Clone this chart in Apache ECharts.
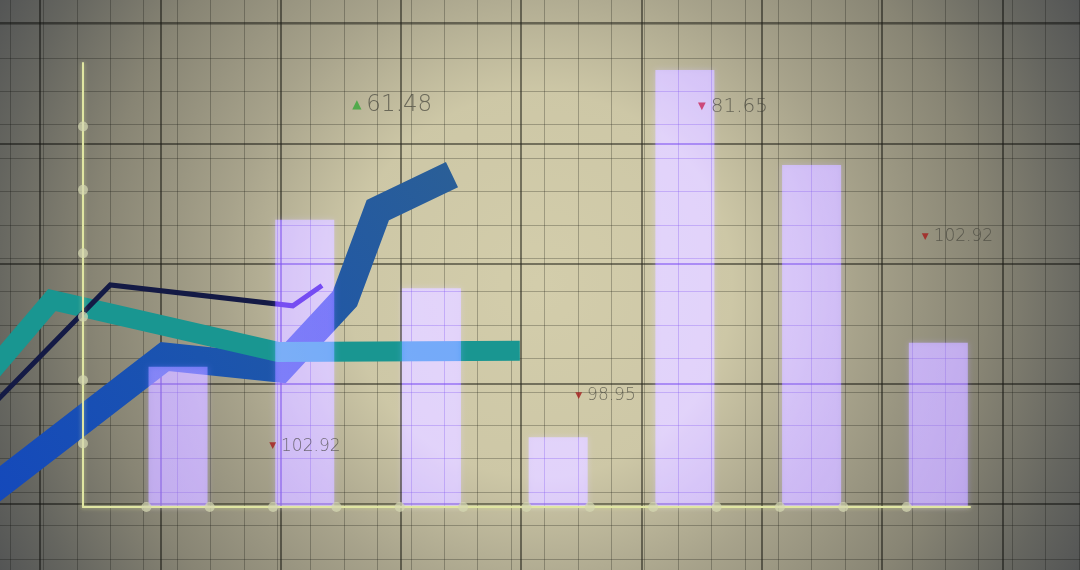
<!DOCTYPE html>
<html><head><meta charset="utf-8">
<script src="https://cdn.jsdelivr.net/npm/echarts@6/dist/echarts.min.js"></script>
<style>html,body{margin:0;padding:0;background:#d3cdab}#c{width:1080px;height:570px}</style>
</head><body><div id="c"></div>
<script>
// ---- data ----
const barX = [1.5, 3.5, 5.5, 7.5, 9.5, 11.5, 13.5];
const barValues = [2.21, 4.53, 3.45, 1.10, 6.89, 5.39, 2.59];
const blueX = [-1.47, 1.29, 3.11, 4.13, 4.65, 5.82];
const blueY = [0.24, 2.37, 2.18, 3.28, 4.68, 5.24];
const tealX = [-1.47, -0.49, 3.08, 6.89];
const tealY = [2.11, 3.26, 2.44, 2.46];
const navyX = [-1.47, 0.43, 3.31, 3.77];
const navyY = [1.56, 3.50, 3.17, 3.49];
const xTicks = [1, 2, 3, 4, 5, 6, 7, 8, 9, 10, 11, 12, 13];
const yTicks = [1, 2, 3, 4, 5, 6];
const noteX = [4.24, 9.70, 13.23, 2.93, 7.76];
const noteY = [6.34, 6.31, 4.26, 0.96, 1.75];
const noteValues = ['61.48', '81.65', '102.92', '102.92', '98.95'];
const noteDir = ['up', 'down', 'down', 'down', 'down'];

// ---- styles ----
const noteFont = [23, 20, 17, 17, 17];
const noteTriColor = ['#38a838', '#c8285a', '#a51c1c', '#a51c1c', '#a51c1c'];
const noteTriSize = [12, 10, 9, 9, 9];

const pairs = (xs, ys) => xs.map((x, i) => [x, ys[i]]);
const hidden = {axisLine:{show:false}, axisTick:{show:false}, axisLabel:{show:false}};
const axisLine = {show:true, lineStyle:{color:'#e0e6a2', width:2, shadowColor:'rgba(230,240,160,0.6)', shadowBlur:4}};

const chart = echarts.init(document.getElementById('c'), null, {renderer:'canvas'});
const option = {
  animation: false,
  backgroundColor: '#d3cdab',
  grid: [
    {left: 83, top: 63, width: 887, height: 444, outerBoundsMode:'none'},
    {left: -80.3, top: -97.3, width: 1323.3, height: 721.8, outerBoundsMode:'none'},
    {left: -23.4, top: -8.9, width: 1135.6, height: 634.6, outerBoundsMode:'none'},
    {left: -43.8, top: -0.4, width: 1141.2, height: 634, outerBoundsMode:'none'}
  ],
  xAxis: [
    {gridIndex:0, type:'value', min:0, max:14, interval:1, z:110, splitLine:{show:false},
     axisTick:{show:false}, axisLabel:{show:false}, axisLine: axisLine},
    Object.assign({gridIndex:1, type:'value', min:0, max:11, interval:1,
     splitLine:{show:true, lineStyle:{color:'rgba(40,40,30,0.55)', width:2}}}, hidden),
    Object.assign({gridIndex:2, type:'value', min:0, max:34, interval:1,
     splitLine:{show:true, lineStyle:{color:'rgba(40,40,30,0.3)', width:1}}}, hidden),
    Object.assign({gridIndex:3, type:'value', min:-2, max:16, splitLine:{show:false}}, hidden)
  ],
  yAxis: [
    {gridIndex:0, type:'value', min:0, max:7, interval:1, z:110, splitLine:{show:false},
     axisTick:{show:false}, axisLabel:{show:false}, axisLine: axisLine},
    Object.assign({gridIndex:1, type:'value', min:0, max:6, interval:1,
     splitLine:{show:true, lineStyle:{color:'rgba(40,40,30,0.55)', width:2}}}, hidden),
    Object.assign({gridIndex:2, type:'value', min:0, max:19, interval:1,
     splitLine:{show:true, lineStyle:{color:'rgba(40,40,30,0.3)', width:1}}}, hidden),
    Object.assign({gridIndex:3, type:'value', min:-2, max:8, splitLine:{show:false}}, hidden)
  ],
  series: [
    {type:'line', name:'blue', xAxisIndex:3, yAxisIndex:3, data: pairs(blueX, blueY), symbol:'none', z:101,
     lineStyle:{width:28, cap:'butt', join:'miter',
       color:{type:'linear', x:0, y:1, x2:1, y2:0, colorStops:[
         {offset:0, color:'#1448bc'}, {offset:0.45, color:'#1b54ae'}, {offset:1, color:'#2b5f96'}]}}},
    {type:'line', name:'teal', xAxisIndex:3, yAxisIndex:3, data: pairs(tealX, tealY), symbol:'none', z:101,
     lineStyle:{width:20, cap:'butt', join:'miter', color:'#199691'}},
    {type:'line', name:'navy', xAxisIndex:3, yAxisIndex:3, data: pairs(navyX, navyY), symbol:'none', z:101,
     lineStyle:{width:5, cap:'butt', join:'miter', color:'#141a45'}},
    {type:'bar', name:'bars', data: pairs(barX, barValues), barWidth:59, z:102,
     blendMode:'screen',
     itemStyle:{
       color:{type:'radial', x:540, y:285, r:640, global:true, colorStops:[
         {offset:0, color:'rgb(70,22,235)'}, {offset:0.35, color:'rgb(78,35,228)'},
         {offset:0.7, color:'rgb(100,66,200)'}, {offset:1, color:'rgb(110,78,190)'}]},
       shadowColor:'rgba(70,40,190,0.55)', shadowBlur:6}},
    {type:'scatter', name:'dots', data: xTicks.map(v => [v, 0]).concat(yTicks.map(v => [0, v])),
     symbol:'circle', symbolSize:10, z:111, silent:true,
     itemStyle:{color:'rgba(212,215,178,0.9)'}},
    {type:'scatter', name:'notes', z:103, silent:true, symbolSize:1,
     itemStyle:{color:'rgba(0,0,0,0)'},
     data: noteX.map((x, i) => ({
       value:[x, noteY[i]],
       label:{show:true, position:'right', distance:0,
         formatter: '{t|' + (noteDir[i] === 'up' ? '▲' : '▼') + '}{v|' + noteValues[i] + '}',
         rich:{
           t:{fontSize: noteTriSize[i], color: noteTriColor[i], padding:[0, 5, 0, 0], fontFamily:'DejaVu Sans'},
           v:{fontSize: noteFont[i], color:'rgba(60,60,52,0.82)', fontFamily:'DejaVu Sans', fontWeight:200}
         }}
     }))}
  ],
  graphic: [{
    type:'rect', left:0, top:0, z:100, silent:true,
    shape:{x:0, y:0, width:1080, height:570},
    style:{blend:'multiply', fill:{type:'radial', x:0.5, y:0.5, r:1.12, colorStops:[
      {offset:0, color:'#ffffff'}, {offset:0.3, color:'#f8f8f8'}, {offset:0.5, color:'#cacacf'},
      {offset:0.7, color:'#a4a5ad'}, {offset:0.86, color:'#7a7e8e'}, {offset:1, color:'#5c6178'}]}}
  }]
};
chart.setOption(option);
</script></body></html>
